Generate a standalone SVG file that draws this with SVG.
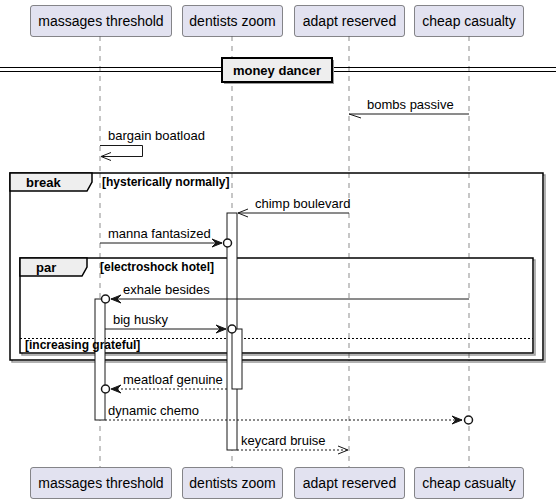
<svg xmlns="http://www.w3.org/2000/svg" width="559" height="504" viewBox="0 0 559 504">
<defs>
<style>
.part{fill:#E2E2F0;stroke:#181818;stroke-width:0.5}
.pt{font-family:"Liberation Sans",Arial,sans-serif;font-size:14px;fill:#000}
.life{stroke:#181818;stroke-width:0.5;stroke-dasharray:5,5;fill:none}
.msg{stroke:#181818;stroke-width:1;fill:none}
.dash{stroke:#181818;stroke-width:1;stroke-dasharray:2,2;fill:none}
.mt{font-family:"Liberation Sans",Arial,sans-serif;font-size:13px;fill:#000}
.ft{font-family:"Liberation Sans",Arial,sans-serif;font-size:13px;font-weight:bold;fill:#000}
.gt{font-family:"Liberation Sans",Arial,sans-serif;font-size:12px;font-weight:bold;fill:#000}
.act{fill:#FFFFFF;stroke:#181818;stroke-width:1}
.shadow{fill:none;stroke:#999;stroke-width:1.5}
.tab{fill:#EEEEEE;stroke:#000;stroke-width:1.5}
.head{fill:#181818;stroke:#181818;stroke-width:1}
.circ{fill:#FFFFFF;stroke:#181818;stroke-width:1.5}
</style>
</defs>
<g id="lifelines">
<line class="life" x1="100" y1="36" x2="100" y2="467"/>
<line class="life" x1="232" y1="36" x2="232" y2="467"/>
<line class="life" x1="349" y1="36" x2="349" y2="467"/>
<line class="life" x1="469" y1="36" x2="469" y2="467"/>
</g>
<g id="divider">
<line x1="0" y1="67.5" x2="556" y2="67.5" stroke="#000" stroke-width="1"/>
<line x1="0" y1="71.5" x2="556" y2="71.5" stroke="#000" stroke-width="1"/>
<rect x="224" y="60" width="110" height="24" fill="#999"/>
<rect x="222" y="58" width="110" height="24" fill="#EEEEEE" stroke="#000" stroke-width="2"/>
<text class="ft" x="277" y="75" text-anchor="middle">money dancer</text>
</g>
<g id="frame-break">
<rect class="shadow" x="12" y="175" width="533" height="187"/>
<rect x="10" y="173" width="533" height="187" fill="#fff" stroke="#000" stroke-width="1.5"/>
<path class="tab" d="M10,173 L92,173 L92,182 L87,191 L10,191 Z"/>
<text class="ft" x="26" y="187">break</text>
</g>
<g id="frame-par">
<rect class="shadow" x="22" y="260" width="513" height="95"/>
<rect x="20" y="258" width="513" height="95" fill="#fff" stroke="#000" stroke-width="1.5"/>
<path class="tab" d="M20,258 L87,258 L87,267 L82,276 L20,276 Z"/>
<text class="ft" x="36" y="272">par</text>
<line x1="20" y1="338.5" x2="533" y2="338.5" stroke="#000" stroke-width="1" stroke-dasharray="2,2"/>
</g>
<g id="lifelines-over">
<line class="life" x1="100" y1="173" x2="100" y2="360"/>
<line class="life" x1="232" y1="173" x2="232" y2="360"/>
<line class="life" x1="349" y1="173" x2="349" y2="360"/>
<line class="life" x1="469" y1="173" x2="469" y2="360"/>
</g>
<g id="activations">
<rect class="act" x="95" y="299" width="10" height="121"/>
<rect class="act" x="227" y="213" width="10" height="237"/>
<rect class="act" x="232" y="329" width="10" height="60"/>
</g>
<g id="guards">
<text class="gt" x="102" y="186">[hysterically normally]</text>
<text class="gt" x="100" y="271">[electroshock hotel]</text>
<text class="gt" x="25" y="349">[increasing grateful]</text>
</g>
<g id="connectors">
<line class="msg" x1="469" y1="114" x2="349" y2="114"/>
<line class="msg" x1="349" y1="114" x2="361" y2="118"/>
<text class="mt" x="367" y="109">bombs passive</text>
<polyline class="msg" points="100,145.5 142.5,145.5 142.5,156.5 101,156.5"/>
<polyline class="msg" points="111,152.5 101,156.5 111,160.5"/>
<text class="mt" x="108" y="140">bargain boatload</text>
<line class="msg" x1="349" y1="213" x2="238" y2="213"/>
<polyline class="msg" points="248,209 238,213 248,217"/>
<text class="mt" x="255" y="208">chimp boulevard</text>
<line class="msg" x1="100" y1="243" x2="222" y2="243"/>
<polygon class="head" points="212,239 222,243 212,247 216,243"/>
<circle class="circ" cx="227.5" cy="243" r="4"/>
<text class="mt" x="108" y="238">manna fantasized</text>
<line class="msg" x1="469" y1="299" x2="111" y2="299"/>
<polygon class="head" points="121,295 111,299 121,303 117,299"/>
<circle class="circ" cx="105.5" cy="299" r="4"/>
<text class="mt" x="123" y="294">exhale besides</text>
<line class="msg" x1="105" y1="329" x2="226" y2="329"/>
<polygon class="head" points="216,325 226,329 216,333 220,329"/>
<circle class="circ" cx="232" cy="329" r="4"/>
<text class="mt" x="113" y="324">big husky</text>
<line class="dash" x1="227" y1="389" x2="111" y2="389"/>
<polygon class="head" points="121,385 111,389 121,393 117,389"/>
<circle class="circ" cx="105.5" cy="389" r="4"/>
<text class="mt" x="123" y="384">meatloaf genuine</text>
<line class="dash" x1="105" y1="420" x2="462" y2="420"/>
<polygon class="head" points="452,416 462,420 452,424 456,420"/>
<circle class="circ" cx="468.5" cy="420" r="4"/>
<text class="mt" x="108" y="415">dynamic chemo</text>
<line class="dash" x1="237" y1="450" x2="348" y2="450"/>
<polyline class="msg" points="338,446 348,450 338,454"/>
<text class="mt" x="241" y="445">keycard bruise</text>
</g>
<g id="p-massages">
<rect class="part" x="30.5" y="5.5" width="141" height="31" rx="2.5"/>
<text class="pt" x="101" y="26" text-anchor="middle">massages threshold</text>
<rect class="part" x="30.5" y="467.5" width="141" height="31" rx="2.5"/>
<text class="pt" x="101" y="488" text-anchor="middle">massages threshold</text>
</g>
<g id="p-dentists">
<rect class="part" x="182.5" y="5.5" width="100" height="31" rx="2.5"/>
<text class="pt" x="232.5" y="26" text-anchor="middle">dentists zoom</text>
<rect class="part" x="182.5" y="467.5" width="100" height="31" rx="2.5"/>
<text class="pt" x="232.5" y="488" text-anchor="middle">dentists zoom</text>
</g>
<g id="p-adapt">
<rect class="part" x="294.5" y="5.5" width="110" height="31" rx="2.5"/>
<text class="pt" x="349.5" y="26" text-anchor="middle">adapt reserved</text>
<rect class="part" x="294.5" y="467.5" width="110" height="31" rx="2.5"/>
<text class="pt" x="349.5" y="488" text-anchor="middle">adapt reserved</text>
</g>
<g id="p-cheap">
<rect class="part" x="414.5" y="5.5" width="109" height="31" rx="2.5"/>
<text class="pt" x="469" y="26" text-anchor="middle">cheap casualty</text>
<rect class="part" x="414.5" y="467.5" width="109" height="31" rx="2.5"/>
<text class="pt" x="469" y="488" text-anchor="middle">cheap casualty</text>
</g>
</svg>
